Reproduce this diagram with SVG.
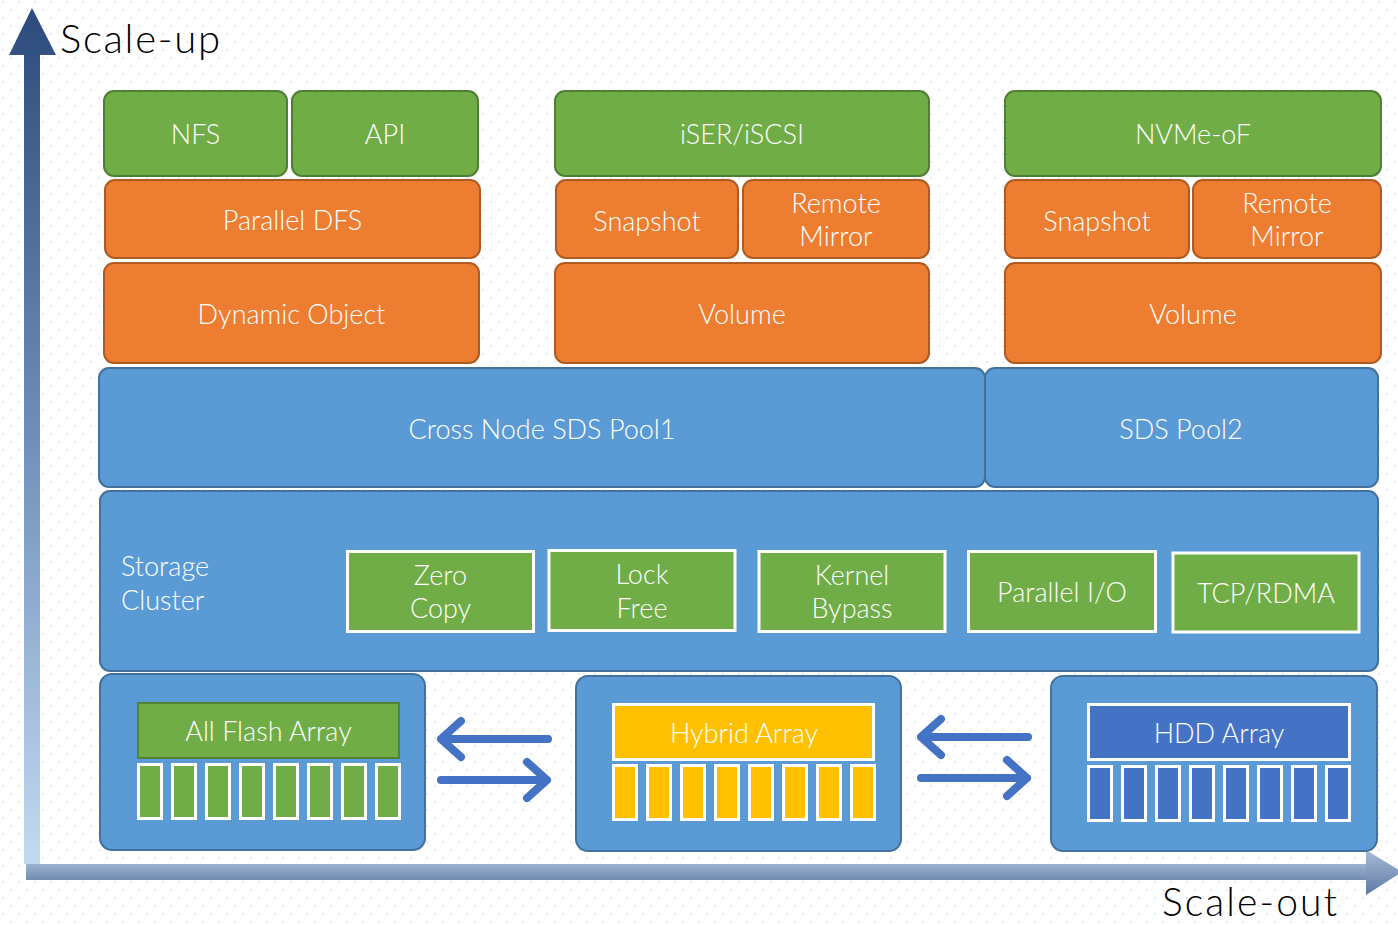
<svg xmlns="http://www.w3.org/2000/svg" width="1398" height="925" viewBox="0 0 1398 925">
  <defs>
    <pattern id="dots" width="16" height="16" patternUnits="userSpaceOnUse">
      <rect x="2.3" y="1.3" width="1.6" height="1.6" fill="#d3e0f1"/>
      <rect x="10.3" y="9.3" width="1.6" height="1.6" fill="#d3e0f1"/>
    </pattern>
    <linearGradient id="upGrad" x1="0" y1="8" x2="0" y2="864" gradientUnits="userSpaceOnUse">
      <stop offset="0" stop-color="#2c4a7c"/>
      <stop offset="0.5" stop-color="#6f8fba"/>
      <stop offset="1" stop-color="#c2dbf1"/>
    </linearGradient>
    <linearGradient id="outGrad" x1="0" y1="862" x2="0" y2="882" gradientUnits="userSpaceOnUse">
      <stop offset="0" stop-color="#a3b8d5"/>
      <stop offset="1" stop-color="#6c86ae"/>
    </linearGradient>
    <linearGradient id="outHead" x1="0" y1="850" x2="0" y2="895" gradientUnits="userSpaceOnUse">
      <stop offset="0" stop-color="#a8bcd8"/>
      <stop offset="1" stop-color="#5e79a5"/>
    </linearGradient>
  </defs>
  <style>
    .lbl { font-family: Lato, "Liberation Sans", sans-serif; font-weight: 300; fill: #ffffff; font-size: 27px; text-anchor: middle; }
    .axis { font-family: Lato, "Liberation Sans", sans-serif; font-weight: 300; fill: #000000; font-size: 40px; }
    .green { fill: #70ad47; stroke: #507e32; stroke-width: 2; }
    .orange { fill: #ed7d31; stroke: #ae5a21; stroke-width: 2; }
    .blue { fill: #5b9bd5; stroke: #41719c; stroke-width: 2; }
    .feat { fill: #70ad47; stroke: #ffffff; stroke-width: 3; }
    .disk { stroke: #ffffff; stroke-width: 3; }
    .swap { fill: none; stroke: #4472c4; stroke-width: 8; stroke-linecap: round; stroke-linejoin: round; }
  </style>

  <!-- background -->
  <rect width="1398" height="925" fill="#ffffff"/>
  <rect width="1398" height="925" fill="url(#dots)"/>

  <!-- axes -->
  <g id="axis-up">
    <rect x="24" y="54" width="16" height="810" fill="url(#upGrad)"/>
    <polygon points="9,55 32,8 56,55" fill="url(#upGrad)"/>
    <text class="axis" x="60" y="53" textLength="160" lengthAdjust="spacing">Scale-up</text>
  </g>
  <g id="axis-out">
    <rect x="26" y="864" width="1342" height="16" fill="url(#outGrad)"/>
    <polygon points="1366,850 1402,872 1366,895" fill="url(#outHead)"/>
    <text class="axis" x="1162" y="916" style="font-size:39px" textLength="175" lengthAdjust="spacing">Scale-out</text>
  </g>

  <!-- file column -->
  <g id="nfs"><rect class="green" x="104" y="91" width="183" height="85" rx="10"/><text class="lbl" x="195.5" y="144">NFS</text></g>
  <g id="api"><rect class="green" x="292" y="91" width="186" height="85" rx="10"/><text class="lbl" x="385" y="144">API</text></g>
  <g id="parallel-dfs"><rect class="orange" x="105" y="180" width="375" height="78" rx="10"/><text class="lbl" x="292.5" y="230">Parallel DFS</text></g>
  <g id="dynamic-object"><rect class="orange" x="104" y="263" width="375" height="100" rx="10"/><text class="lbl" x="291.5" y="324">Dynamic Object</text></g>

  <!-- block column (iSER/iSCSI) -->
  <g id="iser"><rect class="green" x="555" y="91" width="374" height="85" rx="10"/><text class="lbl" x="742" y="144">iSER/iSCSI</text></g>
  <g id="snapshot-1"><rect class="orange" x="556" y="180" width="182" height="78" rx="10"/><text class="lbl" x="647" y="231">Snapshot</text></g>
  <g id="mirror-1"><rect class="orange" x="743" y="180" width="186" height="78" rx="10"/><text class="lbl" x="836" y="213">Remote</text><text class="lbl" x="836" y="246">Mirror</text></g>
  <g id="volume-1"><rect class="orange" x="555" y="263" width="374" height="100" rx="10"/><text class="lbl" x="742" y="324">Volume</text></g>

  <!-- block column (NVMe-oF) -->
  <g id="nvmeof"><rect class="green" x="1005" y="91" width="376" height="85" rx="10"/><text class="lbl" x="1193" y="144">NVMe-oF</text></g>
  <g id="snapshot-2"><rect class="orange" x="1005" y="180" width="184" height="78" rx="10"/><text class="lbl" x="1097" y="231">Snapshot</text></g>
  <g id="mirror-2"><rect class="orange" x="1193" y="180" width="188" height="78" rx="10"/><text class="lbl" x="1287" y="213">Remote</text><text class="lbl" x="1287" y="246">Mirror</text></g>
  <g id="volume-2"><rect class="orange" x="1005" y="263" width="376" height="100" rx="10"/><text class="lbl" x="1193" y="324">Volume</text></g>

  <!-- pools -->
  <g id="pool1"><rect class="blue" x="99" y="368" width="886" height="119" rx="10"/><text class="lbl" x="542" y="439">Cross Node SDS Pool1</text></g>
  <g id="pool2"><rect class="blue" x="985" y="368" width="393" height="119" rx="10"/><text class="lbl" x="1181" y="439">SDS Pool2</text></g>

  <!-- storage cluster -->
  <g id="storage-cluster">
    <rect class="blue" x="100" y="491" width="1278" height="180" rx="10"/>
    <text class="lbl" x="121" y="576" style="text-anchor:start">Storage</text>
    <text class="lbl" x="121" y="610" style="text-anchor:start">Cluster</text>
  </g>
  <g id="zero-copy"><rect class="feat" x="347.5" y="551.5" width="186" height="80"/><text class="lbl" x="440.5" y="585">Zero</text><text class="lbl" x="440.5" y="618">Copy</text></g>
  <g id="lock-free"><rect class="feat" x="549" y="550.5" width="186" height="80"/><text class="lbl" x="642" y="584">Lock</text><text class="lbl" x="642" y="618">Free</text></g>
  <g id="kernel-bypass"><rect class="feat" x="759" y="551.5" width="186" height="80"/><text class="lbl" x="852" y="585">Kernel</text><text class="lbl" x="852" y="618">Bypass</text></g>
  <g id="parallel-io"><rect class="feat" x="968.5" y="551.5" width="187" height="80"/><text class="lbl" x="1062" y="602">Parallel I/O</text></g>
  <g id="tcp-rdma"><rect class="feat" x="1173" y="553" width="186" height="79"/><text class="lbl" x="1266" y="603">TCP/RDMA</text></g>

  <!-- arrays -->
  <g id="all-flash">
    <rect class="blue" x="100" y="674" width="325" height="176" rx="12"/>
    <rect x="138" y="703" width="261" height="55" fill="#70ad47" stroke="#548235" stroke-width="2"/>
    <text class="lbl" x="268.5" y="741">All Flash Array</text>
    <g fill="#70ad47" class="disk">
      <rect x="138.5" y="764.5" width="23" height="54"/>
      <rect x="172.5" y="764.5" width="23" height="54"/>
      <rect x="206.5" y="764.5" width="23" height="54"/>
      <rect x="240.5" y="764.5" width="23" height="54"/>
      <rect x="274.5" y="764.5" width="23" height="54"/>
      <rect x="308.5" y="764.5" width="23" height="54"/>
      <rect x="342.5" y="764.5" width="23" height="54"/>
      <rect x="376.5" y="764.5" width="23" height="54"/>
    </g>
  </g>
  <g id="hybrid">
    <rect class="blue" x="576" y="676" width="325" height="175" rx="12"/>
    <rect x="613.5" y="704.5" width="260" height="55" fill="#ffc000" stroke="#ffffff" stroke-width="3"/>
    <text class="lbl" x="744" y="743">Hybrid Array</text>
    <g fill="#ffc000" class="disk">
      <rect x="613.5" y="765.5" width="23" height="54"/>
      <rect x="647.5" y="765.5" width="23" height="54"/>
      <rect x="681.5" y="765.5" width="23" height="54"/>
      <rect x="715.5" y="765.5" width="23" height="54"/>
      <rect x="749.5" y="765.5" width="23" height="54"/>
      <rect x="783.5" y="765.5" width="23" height="54"/>
      <rect x="817.5" y="765.5" width="23" height="54"/>
      <rect x="851.5" y="765.5" width="23" height="54"/>
    </g>
  </g>
  <g id="hdd">
    <rect class="blue" x="1051" y="676" width="326" height="175" rx="12"/>
    <rect x="1088.5" y="704.5" width="261" height="55" fill="#4472c4" stroke="#ffffff" stroke-width="3"/>
    <text class="lbl" x="1219" y="743">HDD Array</text>
    <g fill="#4472c4" class="disk">
      <rect x="1088.5" y="766.5" width="23" height="54"/>
      <rect x="1122.5" y="766.5" width="23" height="54"/>
      <rect x="1156.5" y="766.5" width="23" height="54"/>
      <rect x="1190.5" y="766.5" width="23" height="54"/>
      <rect x="1224.5" y="766.5" width="23" height="54"/>
      <rect x="1258.5" y="766.5" width="23" height="54"/>
      <rect x="1292.5" y="766.5" width="23" height="54"/>
      <rect x="1326.5" y="766.5" width="23" height="54"/>
    </g>
  </g>

  <!-- migration connectors between arrays -->
  <g id="connectors">
    <path class="swap" d="M548,739 H441 M461,721 L441,739 L461,757"/>
    <path class="swap" d="M441,780 H547 M527,762 L547,780 L527,798"/>
    <path class="swap" d="M1028,737 H921 M941,719 L921,737 L941,755"/>
    <path class="swap" d="M921,778 H1027 M1007,760 L1027,778 L1007,796"/>
  </g>
</svg>
